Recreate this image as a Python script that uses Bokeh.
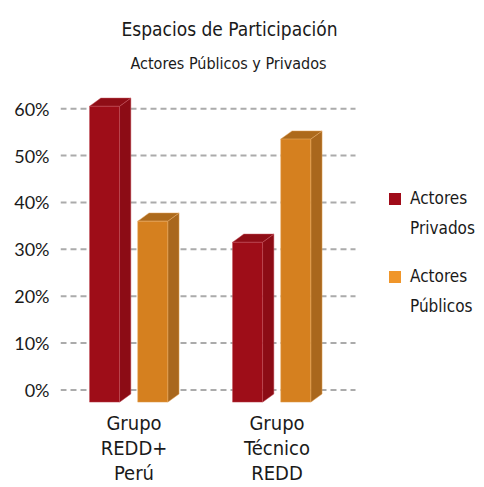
from bokeh.plotting import figure
from bokeh.models import Title, Legend, LegendItem, FixedTicker, PrintfTickFormatter
from bokeh.embed import file_html
from bokeh.resources import INLINE

# ---- data ----
groups = ["Grupo\nREDD+\nPerú", "Grupo\nTécnico\nREDD"]
series_names = [["Actores", "Privados"], ["Actores", "Públicos"]]
privados = [60.5, 31.5]
publicos = [36.0, 53.5]
y_ticks = [0, 10, 20, 30, 40, 50, 60]

# ---- style ----
COND = "DejaVu Sans Condensed"
front_cols = ["#9e0d18", "#d5801f"]
side_cols = ["#8c0c15", "#a9671d"]
top_cols = ["#8f0d16", "#ad6a1c"]
edge_cols = ["#c4505a", "#e8a860"]
legend_cols = ["#a00b19", "#f0962a"]
offsets = [-0.206, 0.131]
bar_w = 0.21
dx, dy = 0.079, 1.75
base = -2.6
x_lo, x_hi, grid_end = -0.514, 2.395, 1.549

p = figure(frame_width=416, frame_height=322, output_backend="svg", toolbar_location=None,
           x_range=(x_lo, x_hi), y_range=(-2.67, 66.0),
           min_border_left=60, min_border_right=0, min_border_top=80, min_border_bottom=0)
p.outline_line_color = None
p.background_fill_color = None
p.border_fill_color = "white"
p.xgrid.visible = False
p.ygrid.visible = False

# dashed gridlines limited to plotting region
xs_idx = list(range(len(groups)))
p.segment(x0=[x_lo] * len(y_ticks), x1=[grid_end] * len(y_ticks), y0=y_ticks, y1=y_ticks,
          line_color="#ababab", line_width=2, line_dash="6 4")

for s, vals in enumerate([privados, publicos]):
    xc = [i + offsets[s] for i in xs_idx]
    x0 = [x - bar_w / 2 for x in xc]
    x1 = [x + bar_w / 2 for x in xc]
    side_xs = [[b, b + dx, b + dx, b] for b in x1]
    side_ys = [[base, base + dy, v + dy, v] for v in vals]
    top_xs = [[a, b, b + dx, a + dx] for a, b in zip(x0, x1)]
    top_ys = [[v, v, v + dy, v + dy] for v in vals]
    p.patches(side_xs, side_ys, fill_color=side_cols[s], line_color=edge_cols[s],
              line_width=0.8, line_alpha=0.6)
    p.patches(top_xs, top_ys, fill_color=top_cols[s], line_color=edge_cols[s],
              line_width=0.8, line_alpha=0.6)
    p.vbar(x=xc, top=vals, bottom=base, width=bar_w, fill_color=front_cols[s],
           line_color=edge_cols[s], line_width=0.8, line_alpha=0.6)

# legend swatches (zero-area quads, only used for the legend)
blank = p.quad(left=[xs_idx[0]], right=[xs_idx[0]], top=[0], bottom=[0],
               fill_alpha=0, line_color=None)
leg_locs = [(327, 164), (327, 86)]
for s in range(2):
    rr = p.quad(left=[xs_idx[0]], right=[xs_idx[0]], top=[0], bottom=[0],
                fill_color=legend_cols[s], line_color=None)
    legend = Legend(items=[LegendItem(label=series_names[s][0], renderers=[rr]),
                           LegendItem(label=series_names[s][1], renderers=[blank])],
                    location=leg_locs[s], orientation="vertical")
    legend.border_line_color = None
    legend.background_fill_alpha = 0
    legend.label_text_font = COND
    legend.label_text_font_size = "17px"
    legend.label_text_color = "#1a1a1a"
    legend.glyph_width = 15
    legend.glyph_height = 15
    legend.label_height = 20
    legend.spacing = 10
    legend.padding = 0
    legend.margin = 0
    legend.label_standoff = 8
    p.add_layout(legend)

# axes
for ax in (p.xaxis, p.yaxis):
    ax.axis_line_color = None
    ax.major_tick_line_color = None
    ax.minor_tick_line_color = None
    ax.major_tick_out = 0
    ax.major_tick_in = 0
    ax.minor_tick_out = 0
    ax.minor_tick_in = 0

p.yaxis.ticker = FixedTicker(ticks=y_ticks)
p.yaxis.formatter = PrintfTickFormatter(format="%d%%")
p.yaxis.major_label_text_font = "Lato"
p.yaxis.major_label_text_font_size = "18px"
p.yaxis.major_label_text_color = "#1a1a1a"
p.yaxis.major_label_standoff = 11

p.xaxis.ticker = FixedTicker(ticks=xs_idx)
p.xaxis.major_label_overrides = {i: g for i, g in zip(xs_idx, groups)}
p.xaxis.major_label_text_font = COND
p.xaxis.major_label_text_font_size = "20px"
p.xaxis.major_label_text_line_height = 1.05
p.xaxis.major_label_text_color = "#1a1a1a"
p.xaxis.major_label_standoff = 8

# titles
sub = Title(text="Actores Públicos y Privados", align="left", offset=70,
            text_font=COND, text_font_size="16px", text_font_style="normal",
            text_color="#1a1a1a", standoff=16)
p.add_layout(sub, "above")
main = Title(text="Espacios de Participación", align="left", offset=61,
             text_font=COND, text_font_size="19px", text_font_style="normal",
             text_color="#1a1a1a", standoff=7)
p.add_layout(main, "above")

open("out.html", "w").write(file_html(p, INLINE))
